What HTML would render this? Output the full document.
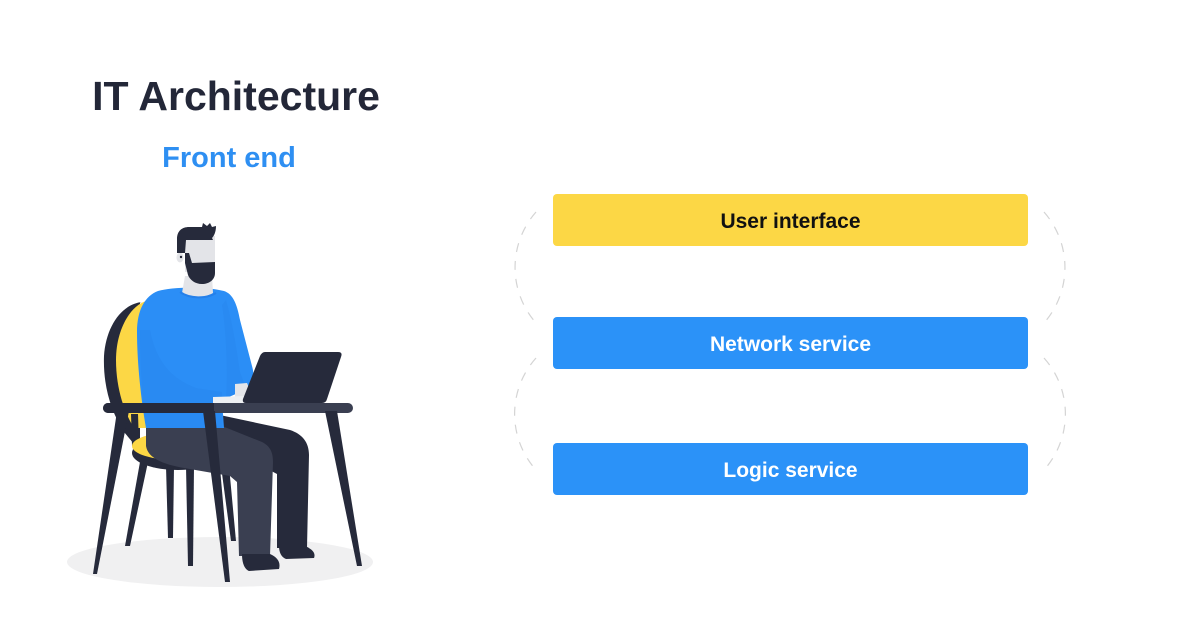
<!DOCTYPE html>
<html>
<head>
<meta charset="utf-8">
<style>
  html, body { margin: 0; padding: 0; background: #ffffff; }
  body { width: 1200px; height: 628px; overflow: hidden; }
  svg { display: block; }
  text { font-family: "Liberation Sans", "DejaVu Sans", sans-serif; }
</style>
</head>
<body>
<svg width="1200" height="628" viewBox="0 0 1200 628" xmlns="http://www.w3.org/2000/svg">
  <rect width="1200" height="628" fill="#ffffff"/>

  <!-- Titles -->
  <text x="236" y="110" font-size="41" font-weight="bold" text-anchor="middle" fill="#232738">IT Architecture</text>
  <text x="229" y="167" font-size="29" font-weight="bold" text-anchor="middle" fill="#2E8FF2">Front end</text>

  <!-- Dashed arcs -->
  <g fill="none" stroke="#d4d4d4" stroke-width="1.2" stroke-dasharray="9 9">
    <path d="M536,212 A84,84 0 0 0 536,323"/>
    <path d="M536,358 A84,84 0 0 0 536,470"/>
    <path d="M1044,212 A84,84 0 0 1 1044,323"/>
    <path d="M1044,358 A84,84 0 0 1 1044,470"/>
  </g>

  <!-- Boxes -->
  <rect x="553" y="194" width="475" height="52" rx="4" fill="#FCD745"/>
  <rect x="553" y="317" width="475" height="52" rx="4" fill="#2B92F8"/>
  <rect x="553" y="443" width="475" height="52" rx="4" fill="#2B92F8"/>
  <text x="790.5" y="228" font-size="21" font-weight="bold" text-anchor="middle" fill="#111111">User interface</text>
  <text x="790.5" y="351" font-size="21" font-weight="bold" text-anchor="middle" fill="#ffffff">Network service</text>
  <text x="790.5" y="477" font-size="21" font-weight="bold" text-anchor="middle" fill="#ffffff">Logic service</text>

  <!-- Illustration -->
  <ellipse cx="220" cy="562" rx="153" ry="25" fill="#f0f0f1"/>

  <!-- chair back -->
  <path d="M142,302 C122,304 106,326 104,356 C103,384 110,410 124,432 L134,444 L140,444 L140,302 Z" fill="#262a3b"/>
  <path d="M146,301 C130,306 116,330 116,360 C116,388 124,412 134,428 L150,428 L150,301 Z" fill="#FCD745"/>
  <path d="M131,414 L138,414 L139,446 L132,446 Z" fill="#262a3b"/>

  <!-- chair seat -->
  <ellipse cx="178" cy="453" rx="46" ry="17" fill="#262a3b"/>
  <ellipse cx="176" cy="446" rx="44" ry="14" fill="#FCD745"/>

  <!-- chair legs -->
  <g fill="#262a3b">
    <path d="M140,462 L148,462 L130,546 L125,546 Z"/>
    <path d="M166,466 L174,466 L173,538 L168,538 Z"/>
    <path d="M186,466 L194,466 L193,566 L188,566 Z"/>
    <path d="M221,466 L229,466 L236,541 L231,541 Z"/>
  </g>

  <!-- dark (far) leg -->
  <path d="M215,414 L290,430 C302,434 309,442 309,455 L307,548 L277,548 L277,474 L262,466 L215,450 Z" fill="#262a3b"/>
  <path d="M279,546 L305,546 C312,549 316,553 314,558 L286,559 C281,557 279,552 279,546 Z" fill="#262a3b"/>

  <!-- light (near) leg -->
  <path d="M146,426 L222,426 L262,442 C270,446 273,452 273,462 L270,556 L239,556 L237,482 L230,476 L184,468 C162,464 148,458 146,446 Z" fill="#3a3f51"/>
  <path d="M242,554 L270,554 C277,557 281,562 279,569 L249,571 C244,569 242,562 242,554 Z" fill="#262a3b"/>

  <!-- sweater -->
  <path d="M158,291 C172,287 204,286 224,291 C233,294 237,304 240,320 L252,366 C255,376 253,385 246,389 L238,393 L222,400 L224,428 L146,428 C141,400 137,362 137,332 C137,310 145,296 158,291 Z" fill="#2B8EF6"/>
  <path d="M150,330 C156,360 170,378 196,388 L222,392 L222,428 L146,428 C142,400 140,360 140,330 Z" fill="#2683EC" opacity="0.35"/>
  <path d="M226,300 C232,320 236,345 240,372 L246,388 L238,393 L226,398 C228,370 226,330 222,305 Z" fill="#2683EC" opacity="0.35"/>

  <!-- hand -->
  <path d="M235,384 L247,383 C250,389 248,396 244,399 L235,399 Z" fill="#e4e5e9"/>
  <path d="M213,397 L246,396 C248,398 248,402 246,403 L213,403 Z" fill="#eef0f3"/>

  <!-- neck -->
  <path d="M185,276 L212,276 L213,293 C205,298 190,298 182,293 Z" fill="#e3e4e8"/>
  <path d="M180,292 C190,299 206,299 216,293" fill="none" stroke="#2580ea" stroke-width="2"/>

  <!-- head -->
  <rect x="185" y="236" width="30" height="36" fill="#e3e4e8"/>
  <ellipse cx="180" cy="257.5" rx="3.5" ry="5" fill="#e3e4e8"/>
  <circle cx="181" cy="257" r="1.2" fill="#262a3b"/>
  <!-- hair -->
  <path d="M177,253 L177,239 C177,231 182,227 189,227 L202,227 L203,223 L207,226 L210,223 L212,227 L216,226 C216,232 214,236 212,238 L213,240 L186,240 L185,253 Z" fill="#262a3b"/>
  <!-- beard -->
  <path d="M185,253 L189,253 L192,263 L215,262 L215,273 C215,280 209,284 202,284 C195,284 190,280 188,275 L185,263 Z" fill="#262a3b"/>

  <!-- laptop -->
  <path d="M265,352 L338,352 Q343,352 341,357 L327,399 Q326,403 322,403 L246,403 Q242,403 243,399 L260,356 Q262,352 265,352 Z" fill="#262a3b"/>

  <!-- desk top -->
  <rect x="103" y="403" width="250" height="10" rx="5" fill="#3a3f51"/>
  <path d="M108,403 L214,403 L214,413 L108,413 A5,5 0 0 1 108,403 Z" fill="#262a3b"/>

  <!-- desk legs -->
  <g fill="#262a3b">
    <path d="M117,411 L129,411 L97,574 L93,574 Z"/>
    <path d="M203,411 L215,411 L230,582 L225,582 Z"/>
    <path d="M325,411 L337,411 L362,566 L357,566 Z"/>
  </g>
</svg>
</body>
</html>
